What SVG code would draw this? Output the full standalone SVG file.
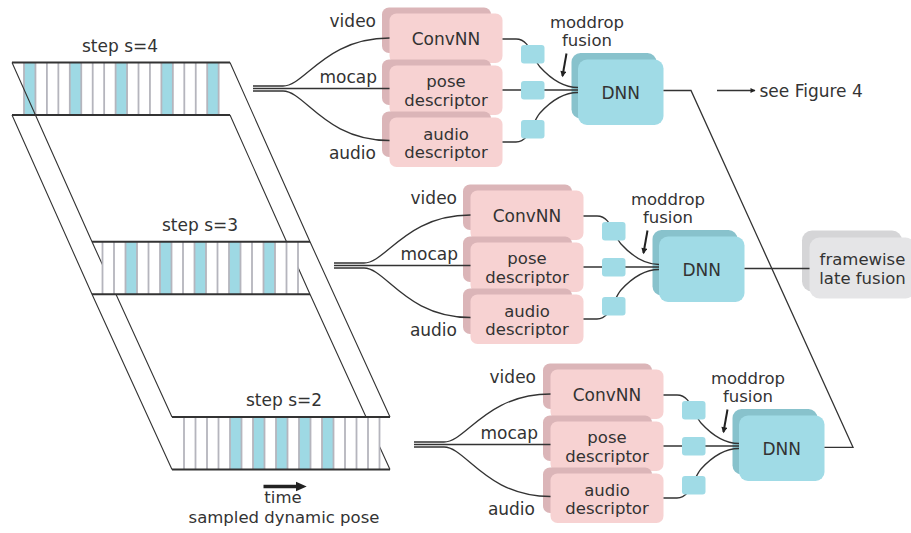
<svg xmlns="http://www.w3.org/2000/svg" width="911" height="533" viewBox="0 0 911 533">
<defs>
<style>
text{font-family:"DejaVu Sans","Liberation Sans",sans-serif;font-size:17px;fill:#333}
.c{text-anchor:middle}
.e{text-anchor:end}
.t2{font-size:16.5px}
.pb{fill:#dbb5b8}.pf{fill:#f7d2d2}
.db{fill:#88c2cc}.df{fill:#a0dbe6}
.sq{fill:#a0dbe6}
.gb{fill:#d5d5d7}.gf{fill:#e5e5e7}
.ln{fill:none;stroke:#333;stroke-width:1.3}
.rail{fill:none;stroke:#333;stroke-width:2}
.sep{fill:none;stroke:#b5b5bd;stroke-width:1.8}
.cell{fill:#9ed9e4}
.diag{fill:none;stroke:#333;stroke-width:1.1}
.arr{fill:none;stroke:#222;stroke-width:2}
</style>
<marker id="ah" viewBox="0 0 10 10" refX="8" refY="5" markerWidth="7" markerHeight="6" markerUnits="userSpaceOnUse" orient="auto"><path d="M0,0 L10,5 L0,10 z" fill="#222"/></marker>
<marker id="ah2" viewBox="0 0 10 10" refX="9" refY="5" markerWidth="8" markerHeight="5" markerUnits="userSpaceOnUse" orient="auto"><path d="M0,0 L10,5 L0,10 z" fill="#222"/></marker>
</defs>
<rect width="911" height="533" fill="#fff"/>

<!-- strip s=4 -->
<g id="strip-s4">
<rect x="24" y="62.5" width="194.65" height="52.5" fill="#fff"/>
<rect class="cell" x="24" y="62.5" width="11.45" height="52.5"/>
<rect class="cell" x="69.8" y="62.5" width="11.45" height="52.5"/>
<rect class="cell" x="115.6" y="62.5" width="11.45" height="52.5"/>
<rect class="cell" x="161.4" y="62.5" width="11.45" height="52.5"/>
<rect class="cell" x="207.2" y="62.5" width="11.45" height="52.5"/>
<path class="sep" d="M24,62.5V115M35.45,62.5V115M46.9,62.5V115M58.35,62.5V115M69.8,62.5V115M81.25,62.5V115M92.7,62.5V115M104.15,62.5V115M115.6,62.5V115M127.05,62.5V115M138.5,62.5V115M149.95,62.5V115M161.4,62.5V115M172.85,62.5V115M184.3,62.5V115M195.75,62.5V115M207.2,62.5V115M218.65,62.5V115"/>
<path class="rail" d="M12,62.5H230M12,115H230"/>
<text class="c" x="120" y="52">step s=4</text>
</g>

<g id="stack-lines" class="diag">
<polyline points="12,62.5 92,241.8 172,417"/>
<polyline points="12,115 92,294.3 172,469.5"/>
<polyline points="230,62.5 310,241.8 390,417"/>
<polyline points="230,115 310,294.3 390,469.5"/>
</g>

<!-- strip s=3 -->
<g id="strip-s3">
<rect x="102.5" y="241.8" width="195.5" height="52.5" fill="#fff"/>
<rect class="cell" x="125.5" y="241.8" width="11.5" height="52.5"/>
<rect class="cell" x="160" y="241.8" width="11.5" height="52.5"/>
<rect class="cell" x="194.5" y="241.8" width="11.5" height="52.5"/>
<rect class="cell" x="229" y="241.8" width="11.5" height="52.5"/>
<rect class="cell" x="263.5" y="241.8" width="11.5" height="52.5"/>
<path class="sep" d="M102.5,241.8V294.3M114,241.8V294.3M125.5,241.8V294.3M137,241.8V294.3M148.5,241.8V294.3M160,241.8V294.3M171.5,241.8V294.3M183,241.8V294.3M194.5,241.8V294.3M206,241.8V294.3M217.5,241.8V294.3M229,241.8V294.3M240.5,241.8V294.3M252,241.8V294.3M263.5,241.8V294.3M275,241.8V294.3M286.5,241.8V294.3M298,241.8V294.3"/>
<path class="rail" d="M92,241.8H310M92,294.3H310"/>
<text class="c" x="200" y="231.3">step s=3</text>
</g>

<!-- strip s=2 -->
<g id="strip-s2">
<rect x="184" y="417" width="195.5" height="52.5" fill="#fff"/>
<rect class="cell" x="230" y="417" width="11.5" height="52.5"/>
<rect class="cell" x="253" y="417" width="11.5" height="52.5"/>
<rect class="cell" x="276" y="417" width="11.5" height="52.5"/>
<rect class="cell" x="299" y="417" width="11.5" height="52.5"/>
<rect class="cell" x="322" y="417" width="11.5" height="52.5"/>
<path class="sep" d="M184,417V469.5M195.5,417V469.5M207,417V469.5M218.5,417V469.5M230,417V469.5M241.5,417V469.5M253,417V469.5M264.5,417V469.5M276,417V469.5M287.5,417V469.5M299,417V469.5M310.5,417V469.5M322,417V469.5M333.5,417V469.5M345,417V469.5M356.5,417V469.5M368,417V469.5M379.5,417V469.5"/>
<path class="rail" d="M172,417H390M172,469.5H390"/>
<text class="c" x="284" y="406.3">step s=2</text>
</g>

<g id="time-axis">
<line x1="263.5" y1="486.5" x2="298" y2="486.5" stroke="#222" stroke-width="3.5"/>
<polygon points="296,481.8 306.7,486.5 296,491.2" fill="#222"/>
<text class="c t2" x="283" y="502.5">time</text>
<text class="c t2" x="284" y="522.5">sampled dynamic pose</text>
</g>

<!-- module 1 nodes -->
<g id="m1-convnn"><rect class="pb" x="382" y="7.5" width="109" height="45.5" rx="7"/><rect class="pf" x="389.5" y="13.5" width="113" height="49.5" rx="7"/><text class="c" x="446" y="44.5">ConvNN</text></g>
<g id="m1-pose"><rect class="pb" x="382" y="59.5" width="109" height="45.5" rx="7"/><rect class="pf" x="389.5" y="65.5" width="113" height="49.5" rx="7"/><text class="c t2" x="446" y="87">pose</text><text class="c t2" x="446" y="105.5">descriptor</text></g>
<g id="m1-audio"><rect class="pb" x="382" y="111.5" width="109" height="45.5" rx="7"/><rect class="pf" x="389.5" y="117.5" width="113" height="49.5" rx="7"/><text class="c t2" x="446" y="139.5">audio</text><text class="c t2" x="446" y="158">descriptor</text></g>
<g id="m1-dnn"><rect class="db" x="571.5" y="53" width="85" height="65.5" rx="9"/><rect class="df" x="578" y="59.5" width="85.5" height="65.5" rx="9"/><text class="c" x="620.75" y="99">DNN</text></g>

<!-- module 2 nodes -->
<g id="m2-convnn" transform="translate(81,177)"><rect class="pb" x="382" y="7.5" width="109" height="45.5" rx="7"/><rect class="pf" x="389.5" y="13.5" width="113" height="49.5" rx="7"/><text class="c" x="446" y="44.5">ConvNN</text></g>
<g id="m2-pose" transform="translate(81,177)"><rect class="pb" x="382" y="59.5" width="109" height="45.5" rx="7"/><rect class="pf" x="389.5" y="65.5" width="113" height="49.5" rx="7"/><text class="c t2" x="446" y="87">pose</text><text class="c t2" x="446" y="105.5">descriptor</text></g>
<g id="m2-audio" transform="translate(81,177)"><rect class="pb" x="382" y="111.5" width="109" height="45.5" rx="7"/><rect class="pf" x="389.5" y="117.5" width="113" height="49.5" rx="7"/><text class="c t2" x="446" y="139.5">audio</text><text class="c t2" x="446" y="158">descriptor</text></g>
<g id="m2-dnn" transform="translate(81,177)"><rect class="db" x="571.5" y="53" width="85" height="65.5" rx="9"/><rect class="df" x="578" y="59.5" width="85.5" height="65.5" rx="9"/><text class="c" x="620.75" y="99">DNN</text></g>

<!-- module 3 nodes -->
<g id="m3-convnn" transform="translate(161,356)"><rect class="pb" x="382" y="7.5" width="109" height="45.5" rx="7"/><rect class="pf" x="389.5" y="13.5" width="113" height="49.5" rx="7"/><text class="c" x="446" y="44.5">ConvNN</text></g>
<g id="m3-pose" transform="translate(161,356)"><rect class="pb" x="382" y="59.5" width="109" height="45.5" rx="7"/><rect class="pf" x="389.5" y="65.5" width="113" height="49.5" rx="7"/><text class="c t2" x="446" y="87">pose</text><text class="c t2" x="446" y="105.5">descriptor</text></g>
<g id="m3-audio" transform="translate(161,356)"><rect class="pb" x="382" y="111.5" width="109" height="45.5" rx="7"/><rect class="pf" x="389.5" y="117.5" width="113" height="49.5" rx="7"/><text class="c t2" x="446" y="139.5">audio</text><text class="c t2" x="446" y="158">descriptor</text></g>
<g id="m3-dnn" transform="translate(161,356)"><rect class="db" x="571.5" y="53" width="85" height="65.5" rx="9"/><rect class="df" x="578" y="59.5" width="85.5" height="65.5" rx="9"/><text class="c" x="620.75" y="99">DNN</text></g>

<g id="framewise"><rect class="gb" x="802" y="230.5" width="100" height="61" rx="10"/><rect class="gf" x="809.5" y="237.5" width="106" height="61" rx="10"/><text class="c t2" x="862.5" y="264.5">framewise</text><text class="c t2" x="862.5" y="284">late fusion</text></g>

<!-- connectors -->
<g id="connectors">
<g id="conn-m1" class="ln">
<path d="M253,86H283C305,86 325,38 389.5,38"/>
<path d="M253,88.5H389.5"/>
<path d="M253,91H283C305,91 325,140.5 389.5,140.5"/>
<path d="M502.5,39H516C530,39 532,58 540,67C550,78 562,87.5 578,87.5"/>
<path d="M502.5,90H578"/>
<path d="M502.5,142H516C530,142 532,122 540,113C550,102 562,92.5 578,92.5"/>
</g>
<g id="conn-m2" class="ln" transform="translate(81,177)">
<path d="M253,86H283C305,86 325,38 389.5,38"/>
<path d="M253,88.5H389.5"/>
<path d="M253,91H283C305,91 325,140.5 389.5,140.5"/>
<path d="M502.5,39H516C530,39 532,58 540,67C550,78 562,87.5 578,87.5"/>
<path d="M502.5,90H578"/>
<path d="M502.5,142H516C530,142 532,122 540,113C550,102 562,92.5 578,92.5"/>
</g>
<g id="conn-m3" class="ln" transform="translate(161,356)">
<path d="M253,86H283C305,86 325,38 389.5,38"/>
<path d="M253,88.5H389.5"/>
<path d="M253,91H283C305,91 325,140.5 389.5,140.5"/>
<path d="M502.5,39H516C530,39 532,58 540,67C550,78 562,87.5 578,87.5"/>
<path d="M502.5,90H578"/>
<path d="M502.5,142H516C530,142 532,122 540,113C550,102 562,92.5 578,92.5"/>
</g>
<path class="ln" d="M663.5,90.5H691L853,447.3H824.5"/>
<path class="ln" d="M744.5,268.5H809.5"/>
<path class="ln" d="M717,90.5H755" marker-end="url(#ah2)"/>
<g id="input-labels">
<text class="e" x="376" y="27">video</text><text class="e" x="377" y="83">mocap</text><text class="e" x="376" y="158.5">audio</text>
<text class="e" x="457" y="204">video</text><text class="e" x="458" y="260">mocap</text><text class="e" x="457" y="335.5">audio</text>
<text class="e" x="536" y="383">video</text><text class="e" x="538" y="439">mocap</text><text class="e" x="535" y="514.5">audio</text>
</g>
</g>

<!-- dropout squares -->
<g id="m1-drop-video"><rect class="sq" x="521" y="45" width="23.5" height="18.5" rx="3"/></g>
<g id="m1-drop-mocap"><rect class="sq" x="521" y="81" width="23.5" height="18.5" rx="3"/></g>
<g id="m1-drop-audio"><rect class="sq" x="521" y="120" width="23.5" height="18.5" rx="3"/></g>
<g id="m2-drop-video" transform="translate(81,177)"><rect class="sq" x="521" y="45" width="23.5" height="18.5" rx="3"/></g>
<g id="m2-drop-mocap" transform="translate(81,177)"><rect class="sq" x="521" y="81" width="23.5" height="18.5" rx="3"/></g>
<g id="m2-drop-audio" transform="translate(81,177)"><rect class="sq" x="521" y="120" width="23.5" height="18.5" rx="3"/></g>
<g id="m3-drop-video" transform="translate(161,356)"><rect class="sq" x="521" y="45" width="23.5" height="18.5" rx="3"/></g>
<g id="m3-drop-mocap" transform="translate(161,356)"><rect class="sq" x="521" y="81" width="23.5" height="18.5" rx="3"/></g>
<g id="m3-drop-audio" transform="translate(161,356)"><rect class="sq" x="521" y="120" width="23.5" height="18.5" rx="3"/></g>

<!-- moddrop annotations -->
<g id="m1-moddrop"><text class="c t2" x="587" y="27.5">moddrop</text><text class="c t2" x="587" y="46">fusion</text><path class="arr" d="M566.5,53.5L562.5,76" marker-end="url(#ah)"/></g>
<g id="m2-moddrop" transform="translate(81,177)"><text class="c t2" x="587" y="27.5">moddrop</text><text class="c t2" x="587" y="46">fusion</text><path class="arr" d="M566.5,53.5L562.5,76" marker-end="url(#ah)"/></g>
<g id="m3-moddrop" transform="translate(161,356)"><text class="c t2" x="587" y="27.5">moddrop</text><text class="c t2" x="587" y="46">fusion</text><path class="arr" d="M566.5,53.5L562.5,76" marker-end="url(#ah)"/></g>

<text x="759.5" y="96.5">see Figure 4</text>
</svg>
